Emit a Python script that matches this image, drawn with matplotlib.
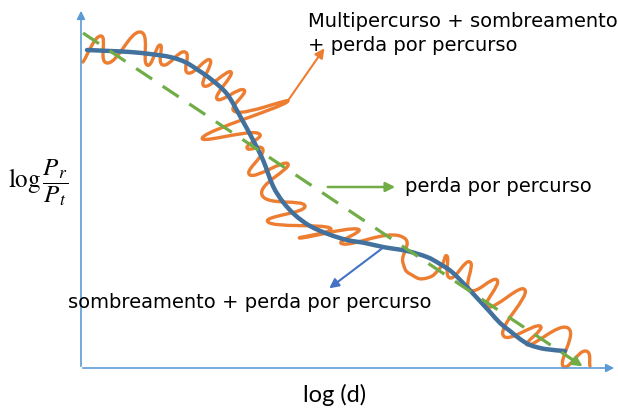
import matplotlib
matplotlib.use('Agg')
import matplotlib.pyplot as plt
from matplotlib.path import Path
from matplotlib.patches import PathPatch

plt.rcParams['mathtext.fontset'] = 'stix'

# curves, in pixel coordinates (x right, y down)
blue_x = [87, 110, 130, 150, 170, 185, 198, 212, 227, 240, 253, 263, 273, 283, 295,
          310, 328, 347, 365, 383, 407, 427, 440, 452, 465, 478, 490, 500, 510, 520,
          530, 545, 565]
blue_y = [50, 51, 52, 54, 57, 62, 70, 80, 94, 116, 140, 160, 186, 202, 215,
          226, 234, 240, 243, 247, 251, 257, 264, 272, 285, 299, 312, 323, 331, 339,
          345, 349, 351]

orange_x = [83, 101, 108, 140, 147, 160, 163, 185, 188, 210, 204, 231, 217, 244, 236,
            287, 203, 257, 247, 263, 250, 288, 262, 305, 268, 330, 300, 357, 343, 400,
            403, 412, 427, 440, 447, 450, 470, 470, 497, 488, 525, 503, 540, 528, 568,
            563, 585, 590]
orange_y = [62, 36, 63, 32, 65, 45, 65, 52, 73, 60, 86, 72, 99, 90, 112,
            102, 137, 133, 148, 150, 175, 164, 195, 206, 222, 228, 238, 229, 244, 236,
            263, 275, 278, 268, 256, 278, 262, 290, 280, 307, 290, 335, 326, 345, 328,
            366, 351, 366]

green_x = [83, 585]
green_y = [33, 368]

orange_c = '#ED7D31'
blue_c = '#41719C'
green_c = '#70AD47'
axis_c = '#5B9BD5'


def through(xs, ys, t=0.5):
    # cubic bezier path passing through every traced point (catmull-rom style tangents)
    pts = list(zip(xs, ys))
    n = len(pts)
    verts = [pts[0]]
    codes = [Path.MOVETO]
    for i in range(n - 1):
        p0 = pts[max(i - 1, 0)]
        p1 = pts[i]
        p2 = pts[i + 1]
        p3 = pts[min(i + 2, n - 1)]
        c1 = (p1[0] + (p2[0] - p0[0]) * t / 3, p1[1] + (p2[1] - p0[1]) * t / 3)
        c2 = (p2[0] - (p3[0] - p1[0]) * t / 3, p2[1] - (p3[1] - p1[1]) * t / 3)
        verts += [c1, c2, p2]
        codes += [Path.CURVE4] * 3
    return Path(verts, codes)


fig = plt.figure(figsize=(6.18, 4.09), dpi=100)
ax = fig.add_axes([0, 0, 1, 1])
ax.set_xlim(0, 618)
ax.set_ylim(409, 0)
ax.axis('off')

# axes arrows
ax.annotate('', xy=(81, 8), xytext=(81, 369),
            arrowprops=dict(arrowstyle='-|>', color=axis_c, lw=1.2, mutation_scale=12))
ax.annotate('', xy=(617, 368), xytext=(80, 368),
            arrowprops=dict(arrowstyle='-|>', color=axis_c, lw=1.2, mutation_scale=12))

ax.add_patch(PathPatch(through(orange_x, orange_y, 0.8), fill=False, edgecolor=orange_c,
                       lw=2.4, joinstyle='round', capstyle='round'))
ax.plot(green_x, green_y, color=green_c, lw=2.3, dashes=(6, 4))
ax.annotate('', xy=(green_x[1], green_y[1]), xytext=(570, 358),
            arrowprops=dict(arrowstyle='-|>', color=green_c, lw=2, mutation_scale=14))
ax.add_patch(PathPatch(through(blue_x, blue_y), fill=False, edgecolor=blue_c,
                       lw=3.2, capstyle='round'))

# pointers
ax.annotate('', xy=(326, 46), xytext=(287, 102),
            arrowprops=dict(arrowstyle='-|>', color=orange_c, lw=1.5, mutation_scale=14))
ax.annotate('', xy=(398, 187), xytext=(325, 187),
            arrowprops=dict(arrowstyle='-|>', color=green_c, lw=1.8, mutation_scale=14))
ax.annotate('', xy=(327, 290), xytext=(384, 247),
            arrowprops=dict(arrowstyle='-|>', color='#4472C4', lw=1.5, mutation_scale=14))

# labels
fs = 14
ax.text(308, 27, 'Multipercurso + sombreamento', fontsize=fs, va='baseline')
ax.text(308, 51, '+ perda por percurso', fontsize=fs, va='baseline')
ax.text(405, 192, 'perda por percurso', fontsize=fs, va='baseline')
ax.text(68, 308, 'sombreamento + perda por percurso', fontsize=fs, va='baseline')
ax.text(335, 402, 'log (d)', fontsize=17, family='Lato', ha='center', va='baseline')
ax.text(8, 183, r'$\log\dfrac{P_r}{P_t}$', fontsize=18, va='center')

plt.savefig('out.png', dpi=100)
